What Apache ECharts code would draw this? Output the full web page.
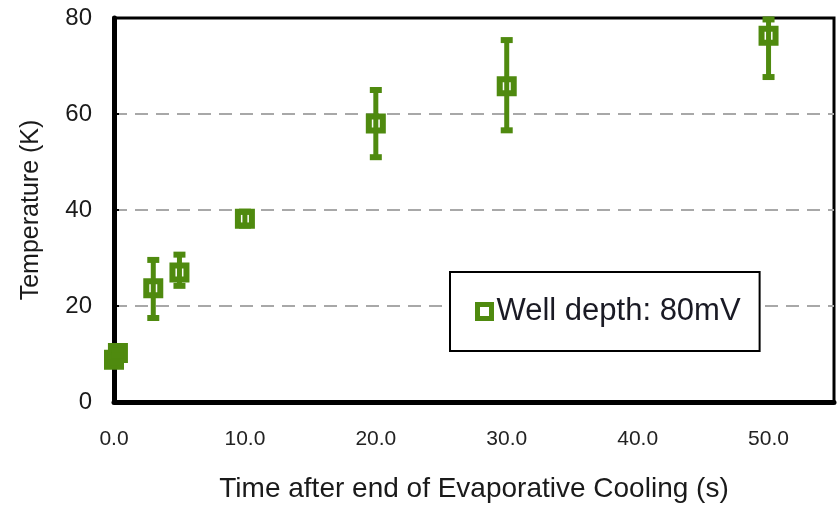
<!DOCTYPE html>
<html>
<head>
<meta charset="utf-8">
<script src="https://cdn.jsdelivr.net/npm/echarts@6/dist/echarts.min.js"></script>
<style>html,body{margin:0;padding:0;background:#fff}#c{width:839px;height:508px}</style>
</head>
<body>
<div id="c"></div>
<script>
const seriesName = 'Well depth: 80mV';
const xValues = [0, 0.3, 3, 5, 10, 20, 30, 50];
const yValues = [8.8, 10.2, 23.7, 27.0, 38.2, 58.0, 65.8, 76.3];
const yLow   = [8.3, 9.7, 17.5, 24.2, 36.75, 51.0, 56.6, 67.7];
const yHigh  = [9.3, 10.7, 29.6, 30.7, 39.65, 65.0, 75.4, 79.7];
const xTitle = 'Time after end of Evaporative Cooling (s)';
const yTitle = 'Temperature (K)';

const green = '#4f8a0f';
const regular = "'Liberation Sans', Arial, sans-serif";
const chart = echarts.init(document.getElementById('c'));

const scatterData = xValues.map((x, i) => {
  const item = { value: [x, yValues[i]] };
  if (x < 1) item.itemStyle = { color: green };
  return item;
});
const errData = xValues.map((x, i) => [x, yLow[i], yHigh[i]]);

chart.setOption({
  animation: false,
  backgroundColor: '#fff',
  grid: { left: 114, right: 5, top: 18, bottom: 106, show: true, borderColor: '#000', borderWidth: 3, backgroundColor: 'transparent' },
  legend: {
    data: [seriesName],
    left: 450, top: 272,
    padding: [24, 19, 24, 25],
    backgroundColor: '#fff',
    borderColor: '#000', borderWidth: 2, borderRadius: 0,
    itemWidth: 14, itemHeight: 14,
    icon: 'rect',
    itemStyle: { color: '#fff', borderColor: green, borderWidth: 5 },
    textStyle: { fontFamily: regular, fontSize: 31, color: '#1a1a24' },
    selectedMode: false
  },
  xAxis: {
    type: 'value', min: 0, max: 55, interval: 10,
    name: xTitle, nameLocation: 'middle', nameGap: 73,
    nameTextStyle: { fontFamily: regular, fontSize: 28, color: '#1a1a1a' },
    axisLine: { show: true, lineStyle: { color: '#000', width: 5 } },
    axisTick: { show: false },
    splitLine: { show: false },
    axisLabel: {
      showMaxLabel: false, margin: 27,
      fontFamily: regular, fontSize: 21, color: '#222',
      formatter: v => v.toFixed(1)
    }
  },
  yAxis: {
    type: 'value', min: 0, max: 80, interval: 20,
    name: yTitle, nameLocation: 'middle', nameGap: 70, nameRotate: 90,
    nameTextStyle: { fontFamily: regular, fontSize: 25, color: '#1a1a1a' },
    axisLine: { show: true, lineStyle: { color: '#000', width: 5 } },
    axisTick: { show: true, inside: true, length: 5, lineStyle: { color: '#000', width: 2 } },
    splitLine: { show: true, showMinLine: false, showMaxLine: false, lineStyle: { color: '#a8a8a8', width: 2, type: [13, 8] } },
    axisLabel: { margin: 22, fontFamily: regular, fontSize: 24, color: '#1a1a1a' }
  },
  series: [
    {
      name: seriesName, type: 'scatter', symbol: 'rect', symbolSize: 14,
      data: scatterData, z: 3, clip: false,
      itemStyle: { color: '#fff', borderColor: green, borderWidth: 6, opacity: 1 },
      emphasis: { disabled: true }
    },
    {
      type: 'custom', data: errData, z: 4, clip: false, silent: true,
      renderItem: function (params, api) {
        const x = api.value(0), lo = api.value(1), hi = api.value(2);
        const pLo = api.coord([x, lo]), pHi = api.coord([x, hi]);
        const cw = 12, ch = 6;
        return {
          type: 'group',
          children: [
            { type: 'line', shape: { x1: pLo[0], y1: pLo[1], x2: pHi[0], y2: pHi[1] }, style: { stroke: green, lineWidth: 5 } },
            { type: 'rect', shape: { x: pHi[0] - cw / 2, y: pHi[1] - ch / 2, width: cw, height: ch }, style: { fill: green } },
            { type: 'rect', shape: { x: pLo[0] - cw / 2, y: pLo[1] - ch / 2, width: cw, height: ch }, style: { fill: green } }
          ]
        };
      }
    }
  ]
});
</script>
</body>
</html>
